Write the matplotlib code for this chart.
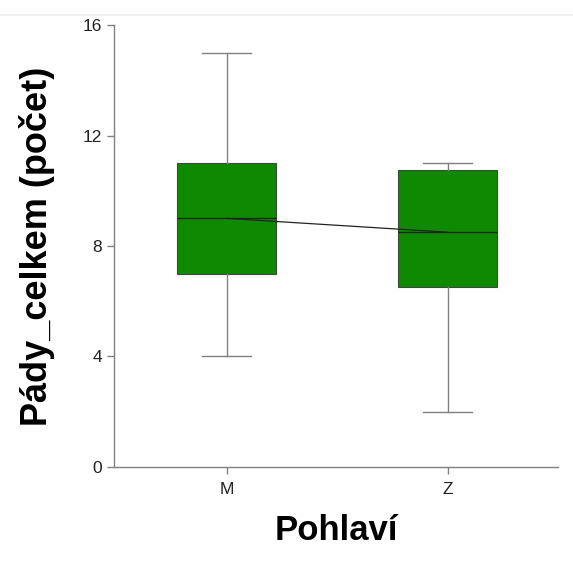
import matplotlib
matplotlib.use('Agg')
import matplotlib.pyplot as plt
from matplotlib.lines import Line2D

plt.rcParams['font.family'] = ['Liberation Sans', 'DejaVu Sans']

# ── Data ──────────────────────────────────────────────────────
groups = ['M', 'Z']
whisker_low = [4.0, 2.0]
q1 = [7.0, 6.5]
median = [9.0, 8.5]
q3 = [11.0, 10.75]
whisker_high = [15.0, 11.0]

BOX_C = '#0f8a00'
AXIS_C = '#808080'

fig = plt.figure(figsize=(5.73, 5.61), dpi=100)
ax = fig.add_axes([0.199, 0.168, 0.775, 0.787])

stats = [dict(label=g, whislo=lo, q1=a, med=m, q3=b, whishi=hi, fliers=[])
         for g, lo, a, m, b, hi in zip(groups, whisker_low, q1, median, q3, whisker_high)]
positions = list(range(1, len(groups) + 1))
ax.bxp(stats, positions=positions, widths=0.45, patch_artist=True, showfliers=False,
       boxprops=dict(facecolor=BOX_C, edgecolor='#3c4a3c', linewidth=0.8),
       medianprops=dict(color='#1a2a1a', linewidth=1.0),
       whiskerprops=dict(color=AXIS_C, linewidth=1.0),
       capprops=dict(color=AXIS_C, linewidth=1.0), capwidths=0.22)

# median connecting line
ax.plot(positions, median, color='#222222', linewidth=0.9, zorder=4)

ax.set_xlim(0.49, 2.5)
ax.set_ylim(0, 16)
ax.set_yticks([0, 4, 8, 12, 16])
ax.set_xticks(positions)
ax.set_xticklabels(groups)

for s in ['top', 'right']:
    ax.spines[s].set_visible(False)
for s in ['left', 'bottom']:
    ax.spines[s].set_color(AXIS_C)
    ax.spines[s].set_linewidth(1.0)
ax.tick_params(colors=AXIS_C, labelcolor='#222222', labelsize=12.5, length=5, width=1.0)
ax.tick_params(axis='x', pad=6)

ax.set_ylabel('Pády_celkem (počet)', fontsize=26, fontweight='bold', labelpad=20)
ax.set_xlabel('Pohlaví', fontsize=25, fontweight='bold', labelpad=12)

# faint frame line near the top of the image
fig.add_artist(Line2D([0, 1], [0.973, 0.973], transform=fig.transFigure,
                      color='#eeeeee', linewidth=1.2))

fig.savefig('out.png', dpi=100, facecolor='white')
